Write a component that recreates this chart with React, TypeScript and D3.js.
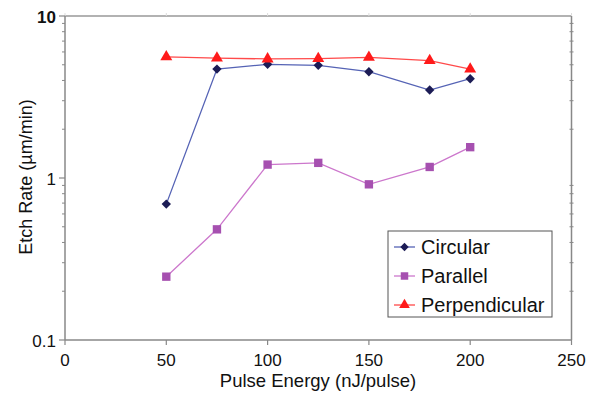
import * as d3 from "d3"

const energies = [50, 75, 100, 125, 150, 180, 200]
const circular = [0.69, 4.7, 5.03, 4.96, 4.53, 3.49, 4.1]
const parallel = [0.246, 0.482, 1.21, 1.24, 0.914, 1.17, 1.55]
const perpendicular = [5.6, 5.5, 5.43, 5.46, 5.56, 5.3, 4.7]
const xTicks = [0, 50, 100, 150, 200, 250]
const yTicks = [0.1, 1, 10]

const W = 593, H = 397
const font = "Liberation Sans, Arial, sans-serif"

const x = d3.scaleLinear().domain([0, 250]).range([65, 571.5])
const y = d3.scaleLog().domain([0.1, 10]).range([340, 16])

const minorY = [0.2, 0.3, 0.4, 0.5, 0.6, 0.7, 0.8, 0.9, 2, 3, 4, 5, 6, 7, 8, 9]

// diamond drawn as a square turned by 45 degrees
const series = [
  { name: "Circular", values: circular, line: "#5563b5", marker: "#1c1c55", shape: d3.symbolSquare, size: 44, rot: 45 },
  { name: "Parallel", values: parallel, line: "#cc77cc", marker: "#a650b0", shape: d3.symbolSquare, size: 70, rot: 0 },
  { name: "Perpendicular", values: perpendicular, line: "#ff4a4a", marker: "#ff1a1a", shape: d3.symbolTriangle, size: 62, rot: 0 },
]

const App = () => {
  const line = d3.line<number>()
    .x((_, i) => x(energies[i]))
    .y(d => y(d))

  return (
    <svg width={W} height={H} style={{ position: "absolute", left: 0, top: 0, background: "#fff" }}>
      {/* frame */}
      <line x1={x(0)} x2={x(250)} y1={y(10)} y2={y(10)} stroke="#999" strokeWidth={1.5} />
      <line x1={x(250)} x2={x(250)} y1={y(10)} y2={y(0.1)} stroke="#888" strokeWidth={1.5} />
      <line x1={x(0)} x2={x(0)} y1={y(10)} y2={y(0.1)} stroke="#888" strokeWidth={1.5} />
      <line x1={x(0)} x2={x(250)} y1={y(0.1)} y2={y(0.1)} stroke="#888" strokeWidth={1.5} />

      {xTicks.map(t => (
        <g key={"x" + t}>
          <line x1={x(t)} x2={x(t)} y1={y(0.1)} y2={y(0.1) + 5} stroke="#888" strokeWidth={1.2} />
          <line x1={x(t)} x2={x(t)} y1={y(10)} y2={y(10) - 3} stroke="#ddd" strokeWidth={1} />
          <text x={x(t)} y={366} textAnchor="middle" fontFamily={font} fontSize={17} fill="#111">{t}</text>
        </g>
      ))}
      {yTicks.map(t => (
        <g key={"y" + t}>
          <line x1={x(0) - 6} x2={x(0)} y1={y(t)} y2={y(t)} stroke="#888" strokeWidth={1.2} />
          <text x={56} y={y(t) + 7} textAnchor="end" fontFamily={font} fontSize={17} fontWeight={t === 10 ? "bold" : "normal"} fill="#111">{t}</text>
        </g>
      ))}
      {minorY.map(t => (
        <g key={"m" + t}>
          <line x1={x(0) - 3} x2={x(0)} y1={y(t)} y2={y(t)} stroke="#888" strokeWidth={1} />
          <line x1={x(250) - 2} x2={x(250) + 2} y1={y(t)} y2={y(t)} stroke="#888" strokeWidth={1} />
        </g>
      ))}

      {series.map(s => (
        <g key={s.name}>
          <path d={line(s.values) ?? ""} fill="none" stroke={s.line} strokeWidth={1.3} />
          {s.values.map((v, i) => (
            <path key={i} d={d3.symbol().type(s.shape).size(s.size)() ?? ""}
              transform={`translate(${x(energies[i])},${y(v)}) rotate(${s.rot})`} fill={s.marker} />
          ))}
        </g>
      ))}

      {/* legend */}
      <rect x={388} y={231} width={164} height={86} fill="#fff" stroke="#555" strokeWidth={1} />
      {series.map((s, i) => {
        const ly = 247 + i * 29
        return (
          <g key={"l" + s.name}>
            <line x1={394} x2={415} y1={ly} y2={ly} stroke={s.line} strokeWidth={1.3} />
            <path d={d3.symbol().type(s.shape).size(s.size * 0.8)() ?? ""} transform={`translate(404.5,${ly}) rotate(${s.rot})`} fill={s.marker} />
            <text x={421} y={ly + 7} fontFamily={font} fontSize={20} fill="#111">{s.name}</text>
          </g>
        )
      })}

      <text x={318} y={387} textAnchor="middle" fontFamily={font} fontSize={18.5} fill="#111">Pulse Energy (nJ/pulse)</text>
      <text transform={`translate(32,177) rotate(-90)`} textAnchor="middle" fontFamily={font} fontSize={18} fill="#111">Etch Rate (µm/min)</text>
    </svg>
  )
}

export default App
